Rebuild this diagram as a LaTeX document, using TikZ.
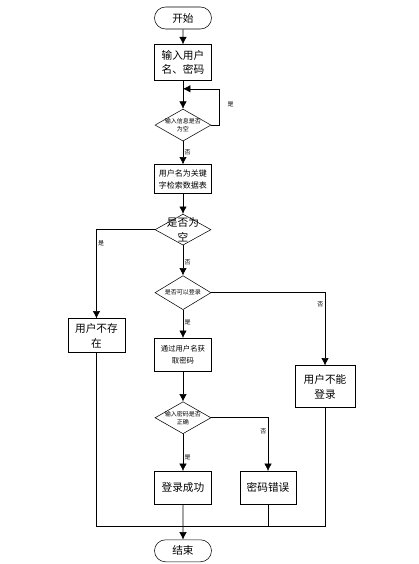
\documentclass[tikz,border=0pt]{standalone}
\usepackage{fontspec}
\newfontfamily\cjk{Noto Sans CJK SC}
\usetikzlibrary{shapes,arrows.meta}
\usetikzlibrary{positioning}
\tikzset{auto,>={Latex[length=5.5pt,width=5.5pt]}, node distance=20pt, line width=0.75pt, font=\cjk\fontsize{8}{11}\selectfont}
\tikzstyle{term} = [draw, rounded rectangle, minimum width=42.75pt, minimum height=16.5pt, inner sep=0pt]
\tikzstyle{block} = [draw, rectangle, minimum width=42.75pt, minimum height=24.75pt, inner sep=1pt, text centered, align=center]
\tikzstyle{decision} = [draw, diamond, minimum width=42pt, minimum height=24pt, inner sep=0pt]
\tikzstyle{dtext} = [align=center, inner sep=0pt, font=\cjk\fontsize{4.5}{6}\selectfont]
\tikzstyle{tag} = [inner sep=1pt, font=\cjk\fontsize{4.5}{5}\selectfont]
\tikzstyle{junction} = [coordinate]

\begin{document}
\begin{tikzpicture}
		\useasboundingbox (-137.25pt,13.5pt) rectangle (176.25pt,-409.5pt);

		\node [term] (start) at (0,0) {开始};
		\node [block, below=11.25pt of start, minimum height=27pt] (input) {输入用户\\名、密码};
		\node [decision, below=21pt of input, label={[dtext]center:输入信息是否\\为空}] (dia1) {};
		\node [block, below=17.25pt of dia1, minimum height=21.75pt, font=\cjk\fontsize{6}{9}\selectfont] (search) {用户名为关键\\字检索数据表};
		\node [decision, below=15pt of search, minimum height=23.25pt, label={[dtext, font=\cjk\fontsize{8}{11}\selectfont]center:是否为\\空}] (dia2) {};
		\node [decision, below=22.5pt of dia2, minimum height=25.5pt, label={[dtext]center:是否可以登录}] (dia3) {};
		\node [block, below=21pt of dia3, font=\cjk\fontsize{5.5}{9}\selectfont] (getpwd) {通过用户名获\\取密码};
		\node [decision, below=22.5pt of getpwd, label={[dtext]center:输入密码是否\\正确}] (dia4) {};
		\node [block, below=27.75pt of dia4] (success) {登录成功};
		\node [block, right=21pt of success, minimum width=42pt] (pwderr) {密码错误};

		\node [block, left=21.75pt of getpwd, yshift=14.25pt, minimum height=25.5pt] (nouser) {用户不存\\在};
		\node [block, right=62.25pt of getpwd, yshift=-24pt, minimum width=45pt, minimum height=31.5pt] (cantlogin) {用户不能\\登录};

		\node [term, below=26.25pt of success] (finish) {结束};

		\node [junction, below=6pt of input] (loop) {};
		\node [junction, right=6pt of dia1] (loop_r) {};
		\node [junction, below=16.5pt of success] (join) {};

		\draw [->] (start) -- (input);
		\draw [->] (input) -- (dia1);
		\draw [->] (dia1.east) -- (loop_r) |- node [tag, pos=0.29, right=5pt] {是} (loop);
		\draw [->] (dia1) -- node [tag] {否} (search);

		\draw [->] (search) -- (dia2);
		\draw [->] (dia2.west) -| node [tag, pos=0.58] {是} (nouser);
		\draw [->] (dia2) -- node [tag, pos=0.55] {否} (dia3);

		\draw [->] (dia3.east) -| node [tag, swap, pos=0.58] {否} (cantlogin);
		\draw [->] (dia3) -- node [tag, pos=0.45] {是} (getpwd);

		\draw [->] (getpwd) -- (dia4);
		\draw [->] (dia4.east) -| node [tag, swap, pos=0.63] {否} (pwderr);
		\draw [->] (dia4) -- node [tag, pos=0.62] {是} (success);

		\draw [->] (success) -- (finish);
		\draw (nouser) |- (join);
		\draw (cantlogin) |- (join);
		\draw (pwderr) |- (join);
	\end{tikzpicture}
\end{document}
